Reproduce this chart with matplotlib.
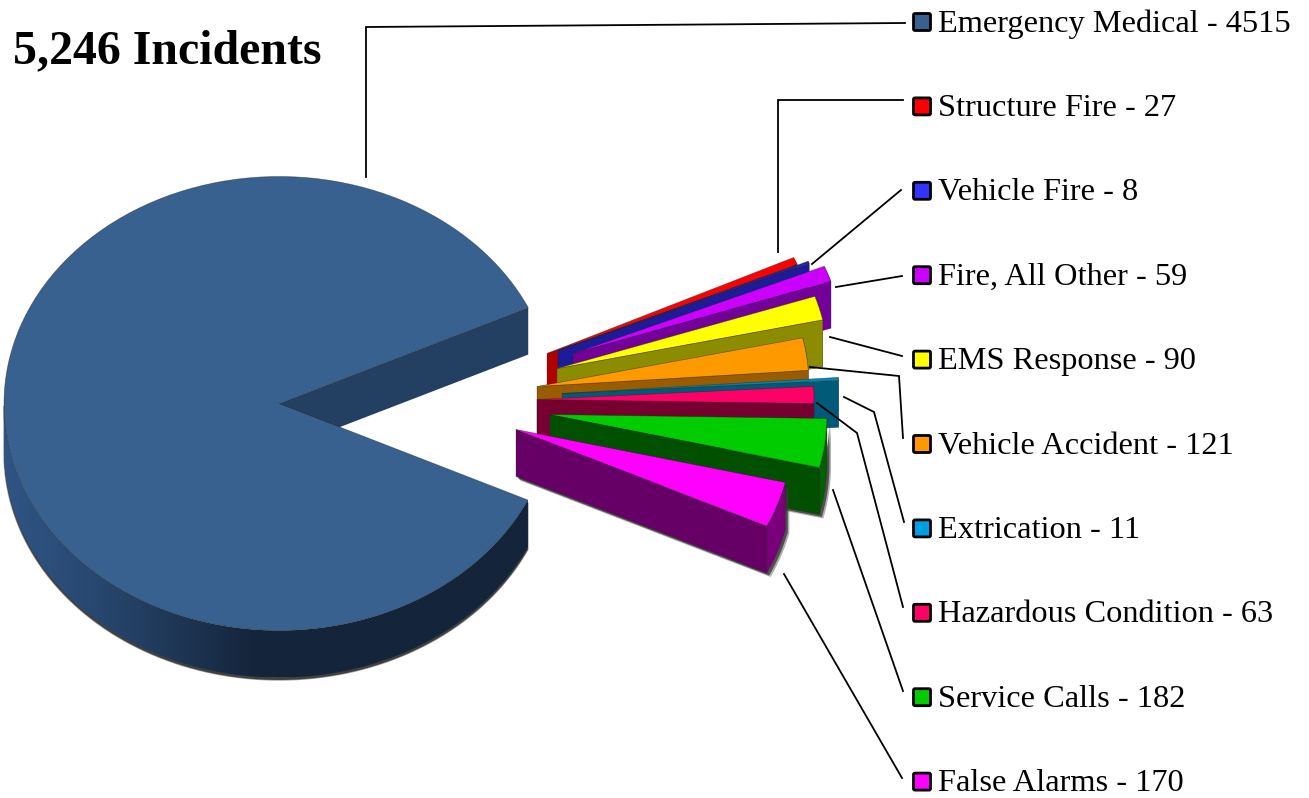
"""Exploded pseudo-3D pie of incident counts with a leader-line legend."""

import matplotlib

matplotlib.use("Agg")

import matplotlib.pyplot as plt
import numpy as np
from matplotlib.colors import LinearSegmentedColormap
from matplotlib.patches import FancyBboxPatch, Polygon, Wedge
from matplotlib.transforms import Affine2D

CATEGORIES = [
    "Emergency Medical", "Structure Fire", "Vehicle Fire", "Fire, All Other", "EMS Response",
    "Vehicle Accident", "Extrication", "Hazardous Condition", "Service Calls", "False Alarms",
]
COUNTS = [4515, 27, 8, 59, 90, 121, 11, 63, 182, 170]
TITLE = "5,246 Incidents"

TOP_COLORS = ["#38618f", "#ff0000", "#2222b0", "#cc00ff", "#ffff00", "#ff9900", "#0088b0", "#ff0066", "#00cc00", "#ff00ff"]
WALL_COLORS = ["#233f61", "#b00000", "#1c1c99", "#730099", "#8c8c00", "#995c00", "#005a78", "#760030", "#005000", "#660066"]
SWATCH_COLORS = ["#38618f", "#ff0000", "#3333ff", "#cc00ff", "#ffff00", "#ff9900", "#00a0e0", "#ff0066", "#00cc00", "#ff00ff"]

# layout, in image pixels
WIDTH, HEIGHT = 1309, 798
CX, CY = 279, 403.5
RADIUS_X = [275, 272, 272, 272, 272, 272, 277, 277, 277, 277]
RY = 227
DEPTH = 47
START_ANGLE = 25
EXPLODE_X = [0, 268, 279, 294, 278, 258, 283, 258, 271, 237]
EXPLODE_Y = [0, -50, -53, -50, -35, -17, -10, -4, 11, 26]
LEGEND_TOP, LEGEND_STEP = 22, 84.4
LEADERS = [
    [(366, 177), (366, 27), (905, 23)],
    [(778, 252), (778, 100), (903, 100)],
    [(812, 264), (901, 190)],
    [(836, 287), (902, 276)],
    [(830, 337), (902, 356)],
    [(810, 367), (899, 376), (903, 438)],
    [(844, 397), (874, 412), (904, 522)],
    [(817, 403), (857, 433), (903, 607)],
    [(833, 490), (903, 691)],
    [(784, 574), (902, 778)],
]


def rim(theta, cx, cy, rx):
    rad = np.radians(theta)
    return cx + rx * np.cos(rad), cy - RY * np.sin(rad)


def arc_wall(theta1, theta2, cx, cy, rx):
    """Outline of the curved wall below the rim between two angles."""
    thetas = np.linspace(theta1, theta2, 90)
    x, y = rim(thetas, cx, cy, rx)
    return np.r_[np.c_[x, y], np.c_[x, y + DEPTH][::-1]]


def cut_wall(theta, cx, cy, rx):
    x, y = rim(theta, cx, cy, rx)
    return np.array([(cx, cy), (x, y), (x, y + DEPTH), (cx, cy + DEPTH)])


def top_face(theta1, theta2, cx, cy, rx, color):
    transform = Affine2D().scale(rx, -RY).translate(cx, cy) + ax.transData
    return Wedge((0, 0), 1, theta1, theta2, transform=transform, facecolor=color, edgecolor="#20202080", linewidth=0.5)


def lighten(color, factor):
    rgb = np.array(matplotlib.colors.to_rgb(color)) * factor
    return tuple(np.clip(rgb, 0, 1))


plt.rcParams["font.family"] = ["Liberation Serif", "DejaVu Serif"]
fig = plt.figure(figsize=(WIDTH / 100, HEIGHT / 100), dpi=100)
ax = fig.add_axes([0, 0, 1, 1])

sweeps = np.array(COUNTS) / sum(COUNTS) * 360

# big slice, opened towards the right
big_start = START_ANGLE
big_end = START_ANGLE + sweeps[0]
big_rx = RADIUS_X[0]
shadow = arc_wall(180, big_end, CX, CY, big_rx) + (0, 2.5)
ax.add_patch(Polygon(shadow, facecolor="#404040", edgecolor="#40404080", linewidth=1))
ax.add_patch(Polygon(cut_wall(big_start, CX, CY, big_rx), facecolor=WALL_COLORS[0], edgecolor="none"))
wall_path = Polygon(arc_wall(180, big_end, CX, CY, big_rx), facecolor="none", edgecolor="none")
ax.add_patch(wall_path)
wall_cmap = LinearSegmentedColormap.from_list(
    "wall", [(0, "#2f5585"), (0.17, "#28476f"), (0.33, "#1d3552"), (0.46, "#14243a"), (1, "#14243a")]
)
gradient = ax.imshow(
    np.linspace(0, 1, 256)[None, :], cmap=wall_cmap, aspect="auto", zorder=1,
    extent=(CX - big_rx, CX + big_rx, CY + RY + DEPTH, CY - RY),
)
gradient.set_clip_path(wall_path)
ax.add_patch(top_face(big_start, big_end, CX, CY, big_rx, TOP_COLORS[0]))

# small slices, painted from the back to the front
angle = START_ANGLE
for i in range(1, len(COUNTS)):
    upper, lower = angle, angle - sweeps[i]
    angle = lower
    cx = CX + EXPLODE_X[i]
    cy = CY + EXPLODE_Y[i]
    rx = RADIUS_X[i]
    if i >= len(COUNTS) - 2:
        for offset, alpha in [((4, 4), 0.4), ((2.5, 2.5), 0.8)]:
            ax.add_patch(Polygon(cut_wall(lower, cx, cy, rx) + offset, facecolor="#383838", edgecolor="none", alpha=alpha))
            ax.add_patch(Polygon(arc_wall(lower, upper, cx, cy, rx) + offset, facecolor="#383838", edgecolor="none", alpha=alpha))
    ax.add_patch(Polygon(arc_wall(lower, upper, cx, cy, rx), facecolor=lighten(WALL_COLORS[i], 1.2), edgecolor="#20202060", linewidth=0.5))
    ax.add_patch(Polygon(cut_wall(lower, cx, cy, rx), facecolor=WALL_COLORS[i], edgecolor="#20202060", linewidth=0.5))
    ax.add_patch(top_face(lower, upper, cx, cy, rx, TOP_COLORS[i]))

for points in LEADERS:
    xs, ys = zip(*points)
    ax.plot(xs, ys, color="black", linewidth=1.3, solid_joinstyle="miter")

for i, (name, count) in enumerate(zip(CATEGORIES, COUNTS)):
    y = LEGEND_TOP + i * LEGEND_STEP
    ax.add_patch(FancyBboxPatch(
        (913.5, y - 8.5), 17, 17, boxstyle="round,pad=0,rounding_size=1.5",
        facecolor=SWATCH_COLORS[i], edgecolor="black", linewidth=2,
    ))
    ax.text(938, y + 2, f"{name} - {count}", fontsize=23.3, va="center", ha="left", color="black")

ax.text(13, 51, TITLE, fontsize=34.5, fontweight="bold", va="center", ha="left", color="black")

ax.set_xlim(0, WIDTH)
ax.set_ylim(HEIGHT, 0)
ax.axis("off")

fig.savefig("out.png", dpi=100)
